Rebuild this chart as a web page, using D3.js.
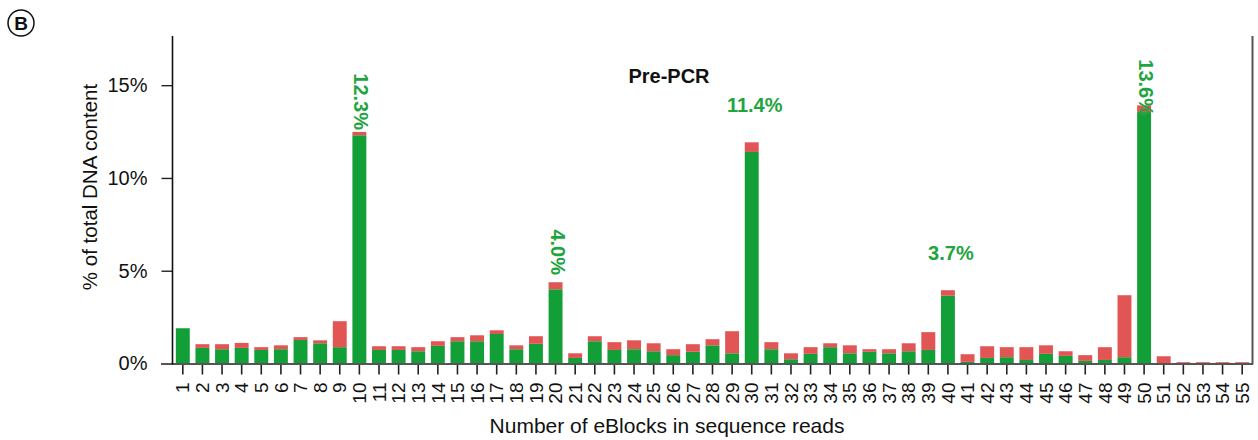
<!DOCTYPE html>
<html>
<head>
<meta charset="utf-8">
<script src="https://cdn.jsdelivr.net/npm/d3@7"></script>
<style>
  body { margin: 0; background: #fff; }
  svg text { font-family: "Liberation Sans", Arial, Helvetica, sans-serif; }
</style>
</head>
<body>
<svg width="1258" height="440"></svg>
<script>
// eBlock counts 1..55
let blocks = d3.range(1, 56).map(String);

// green part of each bar (% of total DNA content)
let greenPct = [
    1.90, 0.84, 0.77, 0.84, 0.73, 0.77, 1.27, 1.09, 0.88, 12.3,
    0.73, 0.73, 0.66, 0.95, 1.20, 1.20, 1.59, 0.77, 1.06, 4.0,
    0.30, 1.20, 0.73, 0.77, 0.66, 0.45, 0.63, 0.98, 0.55, 11.4,
    0.77, 0.23, 0.52, 0.88, 0.55, 0.63, 0.55, 0.66, 0.73, 3.65,
    0.09, 0.30, 0.34, 0.19, 0.52, 0.41, 0.14, 0.19, 0.34, 13.55,
    0, 0, 0, 0, 0
];

// red part stacked on top
let redPct = [
    0, 0.20, 0.27, 0.27, 0.15, 0.21, 0.15, 0.16, 1.40, 0.18,
    0.20, 0.20, 0.22, 0.25, 0.22, 0.32, 0.20, 0.21, 0.41, 0.38,
    0.25, 0.27, 0.42, 0.48, 0.43, 0.32, 0.41, 0.33, 1.19, 0.52,
    0.38, 0.32, 0.36, 0.21, 0.43, 0.14, 0.22, 0.43, 0.96, 0.30,
    0.41, 0.63, 0.54, 0.69, 0.46, 0.25, 0.31, 0.69, 3.34, 0.36,
    0.39, 0.07, 0.07, 0.07, 0.07
];

let yTicks = [0, 5, 10, 15];

let labelBlocks = ["10", "20", "30", "40", "50"];
let labelTexts = ["12.3%", "4.0%", "11.4%", "3.7%", "13.6%"];

let green = "#139f37",
    red = "#e25555",
    labelGreen = "#1fa540";

let svg = d3.select("svg");

let x = d3.scaleBand()
    .domain(blocks)
    .range([173, 1252])
    .paddingInner(0.29)
    .paddingOuter(0.145);

let y = d3.scaleLinear()
    .domain([0, 17.65])
    .range([363.5, 36]);

let data = blocks.map((b, i) => ({ block: b, g: greenPct[i], r: redPct[i] }));

// bars
let bars = svg.append("g");
bars.selectAll("rect.green")
    .data(data).enter()
    .append("rect")
    .attr("class", "green")
    .attr("x", d => x(d.block))
    .attr("width", x.bandwidth())
    .attr("y", d => y(d.g))
    .attr("height", d => y(0) - y(d.g))
    .attr("fill", green);

bars.selectAll("rect.red")
    .data(data).enter()
    .append("rect")
    .attr("class", "red")
    .attr("x", d => x(d.block))
    .attr("width", x.bandwidth())
    .attr("y", d => y(d.g + d.r))
    .attr("height", d => y(d.g) - y(d.g + d.r))
    .attr("fill", red);

// x axis
let xAxis = svg.append("g")
    .attr("transform", "translate(0," + y(0) + ")")
    .call(d3.axisBottom(x).tickSize(11).tickPadding(8));
xAxis.select(".domain").remove();
xAxis.selectAll(".tick line").attr("stroke", "#222").attr("stroke-width", 1.6);
xAxis.selectAll(".tick text")
    .attr("transform", "rotate(-90)")
    .attr("x", -19)
    .attr("y", 0)
    .attr("dy", "0.35em")
    .attr("text-anchor", "end")
    .attr("font-size", 19)
    .attr("fill", "#111");

// y axis
let yAxis = svg.append("g")
    .attr("transform", "translate(172.5,0)")
    .call(d3.axisLeft(y).tickValues(yTicks).tickFormat(d => d + "%").tickSize(11).tickPadding(14));
yAxis.select(".domain").remove();
yAxis.selectAll(".tick line").attr("stroke", "#222").attr("stroke-width", 1.4);
yAxis.selectAll(".tick text")
    .attr("font-size", 20)
    .attr("fill", "#111");

// frame lines
svg.append("line")
    .attr("x1", 161).attr("x2", 1253)
    .attr("y1", y(0) + 0.5).attr("y2", y(0) + 0.5)
    .attr("stroke", "#555").attr("stroke-width", 2);
svg.append("line")
    .attr("x1", 172.5).attr("x2", 172.5)
    .attr("y1", 36).attr("y2", y(0) + 1)
    .attr("stroke", "#111").attr("stroke-width", 1.6);
svg.append("line")
    .attr("x1", 1252.5).attr("x2", 1252.5)
    .attr("y1", 36).attr("y2", y(0) + 1)
    .attr("stroke", "#555").attr("stroke-width", 2);

// value labels
let labelLayout = {
    "10": { rot: true, end: 130 },
    "20": { rot: true, end: 275 },
    "30": { rot: false, above: 30 },
    "40": { rot: false, above: 30 },
    "50": { rot: true, end: 116 }
};
labelBlocks.forEach((b, i) => {
    let idx = blocks.indexOf(b);
    let cx = x(b) + x.bandwidth() / 2;
    let top = y(greenPct[idx] + redPct[idx]);
    let lay = labelLayout[b];
    let t = svg.append("text")
        .attr("fill", labelGreen)
        .attr("font-size", 20)
        .attr("font-weight", "bold")
        .text(labelTexts[i]);
    if (lay.rot) {
        t.attr("transform", "translate(" + (cx + 2) + "," + lay.end + ") rotate(90)")
            .attr("text-anchor", "end")
            .attr("dy", "0.35em");
    } else {
        t.attr("x", cx + 3)
            .attr("y", top - lay.above)
            .attr("text-anchor", "middle");
    }
});

// title inside plot
svg.append("text")
    .attr("x", 669)
    .attr("y", 83)
    .attr("text-anchor", "middle")
    .attr("font-size", 20)
    .attr("font-weight", "bold")
    .attr("fill", "#111")
    .text("Pre-PCR");

// axis titles
svg.append("text")
    .attr("transform", "translate(97,187) rotate(-90)")
    .attr("text-anchor", "middle")
    .attr("font-size", 20.5)
    .attr("fill", "#111")
    .text("% of total DNA content");

svg.append("text")
    .attr("x", 667)
    .attr("y", 433)
    .attr("text-anchor", "middle")
    .attr("font-size", 21)
    .attr("fill", "#111")
    .text("Number of eBlocks in sequence reads");

// panel letter
svg.append("circle")
    .attr("cx", 21).attr("cy", 23).attr("r", 13)
    .attr("fill", "none").attr("stroke", "#111").attr("stroke-width", 1.5);
svg.append("text")
    .attr("x", 21).attr("y", 30)
    .attr("text-anchor", "middle")
    .attr("font-size", 19)
    .attr("font-weight", "bold")
    .attr("fill", "#111")
    .text("B");
</script>
</body>
</html>
